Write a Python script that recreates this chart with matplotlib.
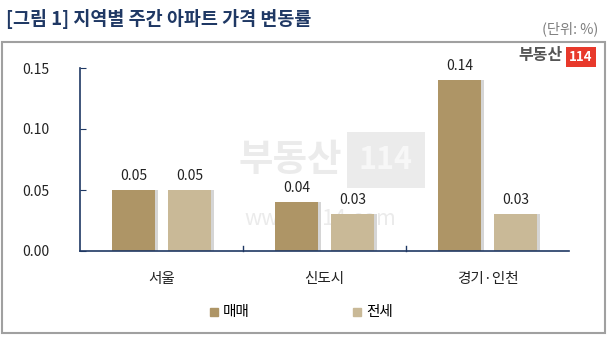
import matplotlib.pyplot as plt
import numpy as np
from matplotlib.patches import Rectangle

plt.rcParams['font.family'] = ['Noto Sans CJK KR', 'DejaVu Sans']

# --- DATA ---
regions = ['서울', '신도시', '경기·인천']
sale = [0.05, 0.04, 0.14]      # 매매
lease = [0.05, 0.03, 0.03]     # 전세
series_names = ['매매', '전세']
y_ticks = [0.00, 0.05, 0.10, 0.15]

SALE_COLOR = '#AE9566'
LEASE_COLOR = '#C9B997'
NAVY = '#1F3864'
WM = '#EBEBEB'

fig = plt.figure(figsize=(6.08, 3.43), dpi=100)
W, H = 608, 343

# outer frame
fig.patches.append(Rectangle((2 / W, 1 - 333 / H), 603 / W, 291 / H,
                             transform=fig.transFigure, fill=False,
                             edgecolor='#A0A0A0', linewidth=1.5))

fig.text(6 / W, 1 - 19 / H, '[그림 1] 지역별 주간 아파트 가격 변동률',
         fontsize=13.3, fontweight='bold', color=NAVY, va='center', ha='left')
fig.text(598 / W, 1 - 29 / H, '(단위: %)', fontsize=10.3, color='#7F7F7F',
         va='center', ha='right')

ax = fig.add_axes([80 / W, 1 - 251 / H, 489 / W, 183 / H])
ax.patch.set_visible(False)

# watermark
ax.text(290 / W, 1 - 160 / H, '부동산', transform=fig.transFigure,
        fontsize=27, fontweight='bold', color=WM, ha='center',
        va='center', zorder=0)
ax.text(386 / W, 1 - 160 / H, '114', transform=fig.transFigure,
        fontsize=22, fontweight='bold', color='#F7F7F7', ha='center',
        va='center', zorder=0,
        bbox=dict(boxstyle='square,pad=0.4', fc=WM, ec='none'))
ax.text(320 / W, 1 - 219 / H, 'www.r114.com', transform=fig.transFigure,
        fontsize=15.5, color=WM, ha='center', va='center', zorder=0)

x = np.arange(len(regions))
w = 0.265
off = 0.172
shadow = 0.018

for vals, pos, col in [(sale, x - off, SALE_COLOR), (lease, x + off, LEASE_COLOR)]:
    ax.bar(pos + shadow, vals, width=w, color='#D5D5D5', zorder=1)
    bars = ax.bar(pos, vals, width=w, color=col, zorder=2)
    for b, v in zip(bars, vals):
        ax.text(b.get_x() + b.get_width() / 2, v + 0.006, f'{v:.2f}',
                ha='center', va='bottom', fontsize=10, color='#222222')

ax.set_xlim(-0.5, len(regions) - 0.5)
ax.set_ylim(0, 0.15)
ax.set_yticks(y_ticks)
ax.set_yticklabels([f'{t:.2f}' for t in y_ticks], fontsize=10, color='#222222')
ax.set_xticks(x)
ax.set_xticklabels(regions, fontsize=10.5, color='#222222')
ax.tick_params(axis='x', length=0, pad=15)
ax.tick_params(axis='y', direction='in', length=4, color=NAVY, pad=22)
# category separators on the x axis
for sep in np.arange(0.5, len(regions) - 0.5, 1.0):
    ax.plot([sep, sep], [0, 0.004], color=NAVY, linewidth=1, clip_on=False)

for s in ['top', 'right']:
    ax.spines[s].set_visible(False)
for s in ['left', 'bottom']:
    ax.spines[s].set_color(NAVY)
    ax.spines[s].set_linewidth(1.2)

# legend
fig.patches.append(Rectangle((210 / W, 1 - 316 / H), 8 / W, 8 / H,
                             transform=fig.transFigure, color=SALE_COLOR))
fig.text(223 / W, 1 - 312 / H, series_names[0], fontsize=10.5, va='center')
fig.patches.append(Rectangle((353 / W, 1 - 316 / H), 8 / W, 8 / H,
                             transform=fig.transFigure, color=LEASE_COLOR))
fig.text(366 / W, 1 - 312 / H, series_names[1], fontsize=10.5, va='center')

# logo
fig.text(563 / W, 1 - 55 / H, '부동산', fontsize=11.5, fontweight='bold',
         color='#555555', ha='right', va='center')
fig.text(581 / W, 1 - 57 / H, '114', fontsize=9.5, fontweight='bold',
         color='white', ha='center', va='center',
         bbox=dict(boxstyle='square,pad=0.25', fc='#E8392B', ec='none'))

fig.savefig('out.png', dpi=100)
